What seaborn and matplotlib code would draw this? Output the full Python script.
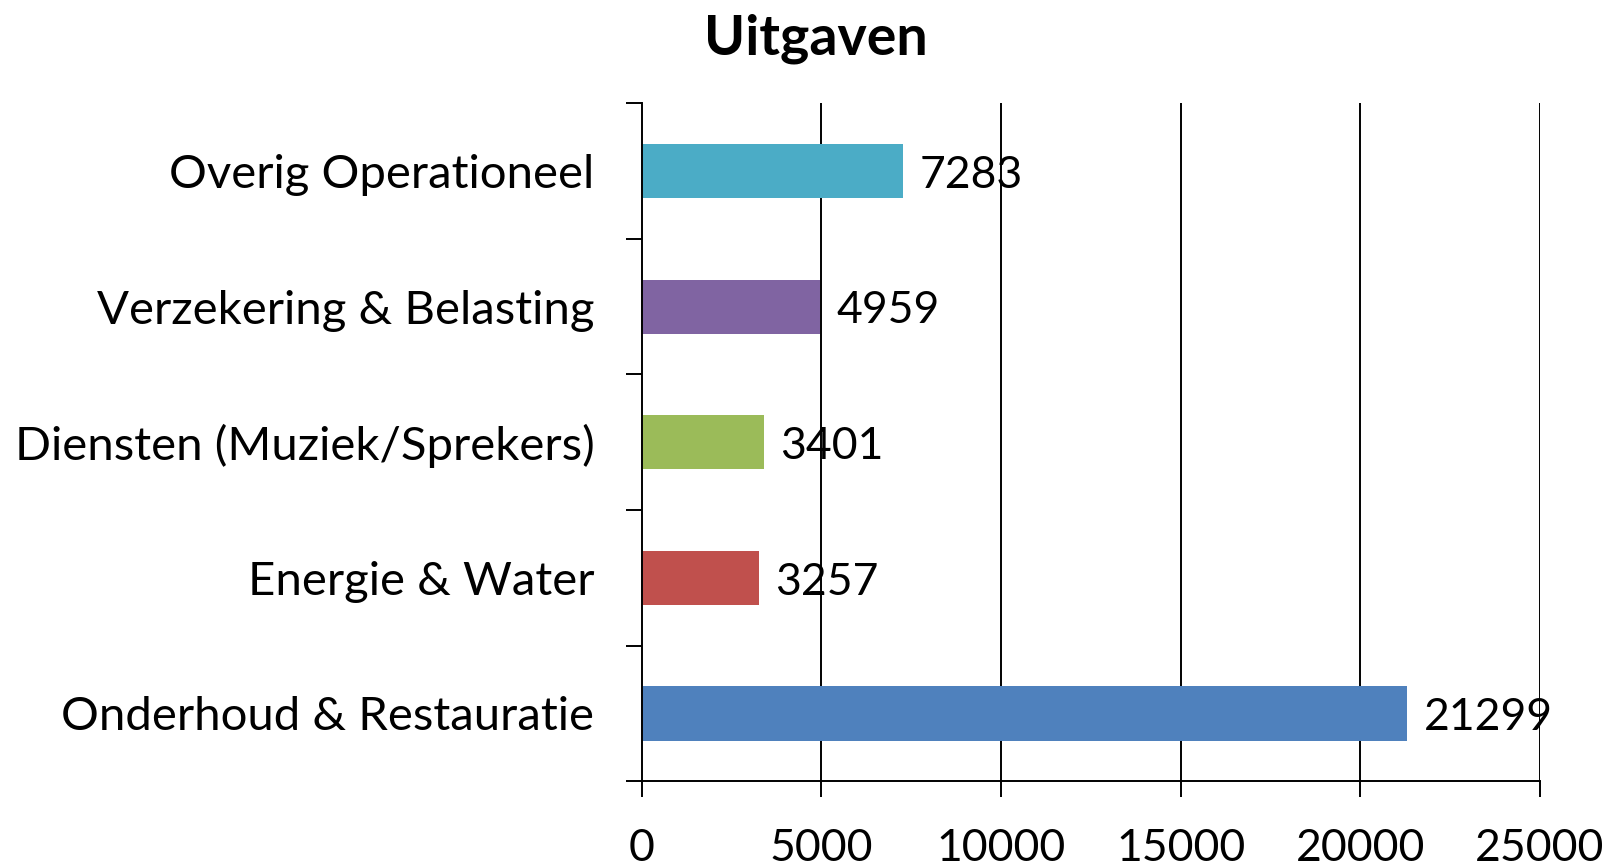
import matplotlib
matplotlib.use("Agg")
import matplotlib.pyplot as plt
import seaborn as sns
import pandas as pd
import numpy as np

categories = ["Overig Operationeel", "Verzekering & Belasting",
              "Diensten (Muziek/Sprekers)", "Energie & Water",
              "Onderhoud & Restauratie"]
values = [7283, 4959, 3401, 3257, 21299]
colors = ["#4BACC6", "#8064A2", "#9BBB59", "#C0504D", "#4F81BD"]
xticks = [0, 5000, 10000, 15000, 20000, 25000]
title = "Uitgaven"

sns.set_style("white")
plt.rcParams['font.family'] = ['Lato', 'DejaVu Sans']

df = pd.DataFrame({"cat": categories, "val": values})

fig = plt.figure(figsize=(16.12, 8.68), dpi=100)
ax = fig.add_axes([0.398, 0.0999, 0.9553 - 0.398, 0.881 - 0.0999])

sns.barplot(data=df, x="val", y="cat", hue="cat", palette=colors,
            order=categories, hue_order=categories, orient="h",
            width=0.40, legend=False, ax=ax, saturation=1,
            linewidth=0, edgecolor="none")

ax.set_xlim(0, 25000)
ax.set_ylim(4.5, -0.5)
ax.set_xticks(xticks)
ax.set_xticklabels([str(t) for t in xticks])
ax.set_xlabel("")
ax.set_ylabel("")

ax.grid(False)
for t in xticks[1:]:
    ax.axvline(t, color="black", linewidth=1.4, zorder=0)

for s in ["top", "right"]:
    ax.spines[s].set_visible(False)
for s in ["left", "bottom"]:
    ax.spines[s].set_color("black")
    ax.spines[s].set_linewidth(1.4)

ax.set_yticks(np.arange(-0.5, 5.0, 1.0), minor=True)
ax.tick_params(axis="y", which="major", left=True, length=0, pad=34, labelsize=34, colors="black")
ax.tick_params(axis="y", which="minor", left=True, length=11.5, width=1.4, color="black", direction="out")
ax.tick_params(axis="x", which="major", bottom=True, length=11.5, width=1.4, color="black",
               direction="out", pad=22, labelsize=32, labelcolor="black")

for i, v in enumerate(values):
    ax.annotate(str(v), xy=(v, i), xytext=(12, -3), textcoords="offset points",
                ha="left", va="center", fontsize=32, color="black")

fig.suptitle(title, x=0.506, y=0.985, fontsize=40, fontweight="bold", va="top", color="black")

fig.savefig("out.png", dpi=100)
